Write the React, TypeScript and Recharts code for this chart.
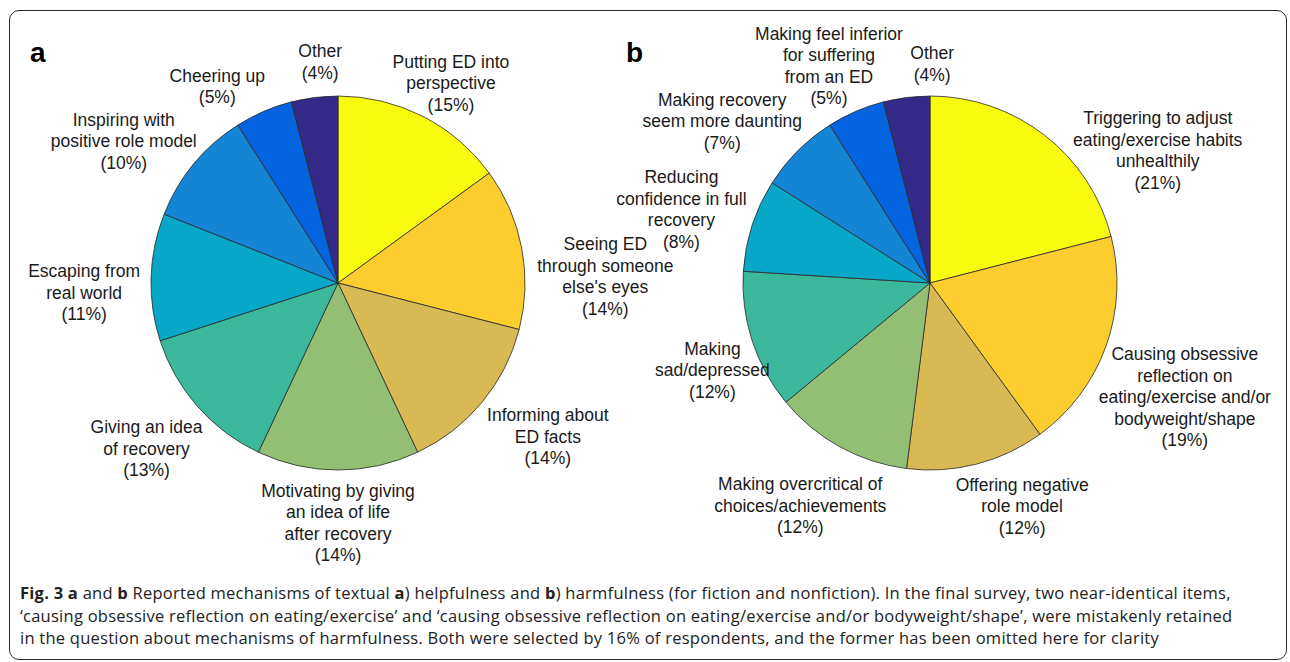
import React from "react";
import { PieChart, Pie, Cell } from "recharts";

// panel a: helpfulness
const helpNames = [
  "Putting ED into\nperspective",
  "Seeing ED\nthrough someone\nelse's eyes",
  "Informing about\nED facts",
  "Motivating by giving\nan idea of life\nafter recovery",
  "Giving an idea\nof recovery",
  "Escaping from\nreal world",
  "Inspiring with\npositive role model",
  "Cheering up",
  "Other",
];
const helpValues = [15, 14, 14, 14, 13, 11, 10, 5, 4];

// panel b: harmfulness
const harmNames = [
  "Triggering to adjust\neating/exercise habits\nunhealthily",
  "Causing obsessive\nreflection on\neating/exercise and/or\nbodyweight/shape",
  "Offering negative\nrole model",
  "Making overcritical of\nchoices/achievements",
  "Making\nsad/depressed",
  "Reducing\nconfidence in full\nrecovery",
  "Making recovery\nseem more daunting",
  "Making feel inferior\nfor suffering\nfrom an ED",
  "Other",
];
const harmValues = [21, 19, 12, 12, 12, 8, 7, 5, 4];

// parula, yellow -> dark blue
const parula = [
  "#f9fb0e",
  "#fccd2f",
  "#d8b953",
  "#92bf73",
  "#3bb89b",
  "#08a6c7",
  "#1485d4",
  "#0464e0",
  "#352a87",
];

// hand tweaks for label placement (dx, dy)
const helpNudge = [
  [-6, 8], [10, 39], [8, 5], [0, -4], [2, 11], [0, 17], [0, 7], [-23, 8], [10, 0],
];
const harmNudge = [
  [50, 60], [-18, 28], [25, -3], [10, 18], [24, 15], [12, 2], [-14, 3], [11, 7], [30, 2],
];

const helpData = helpNames.map((name, i) => ({ name, value: helpValues[i] }));
const harmData = harmNames.map((name, i) => ({ name, value: harmValues[i] }));

const LINE_H = 21.5;
const FONT = 17.5;
const RADIAN = Math.PI / 180;

const makeLabel = (nudge: number[][]) => (props: any) => {
  const { cx, cy, midAngle, outerRadius, index, name, value } = props;
  const lines = [...String(name).split("\n"), `(${value}%)`];
  const dx = Math.cos(midAngle * RADIAN);
  const dy = -Math.sin(midAngle * RADIAN);
  const w = Math.max(...lines.map((l) => l.length)) * 8;
  const h = lines.length * 21;
  const [nx, ny] = nudge[index] || [0, 0];
  const x = cx + dx * (outerRadius + 15) + (dx * w) / 2 + nx;
  const y = cy + dy * (outerRadius + 15) + (dy * h) / 2 + ny;
  const y0 = y - ((lines.length - 1) * LINE_H) / 2 + FONT * 0.35;
  return (
    <text
      x={x}
      y={y0}
      textAnchor="middle"
      fontFamily="'Liberation Sans', Arial, sans-serif"
      fontSize={FONT}
      fill="#1a1a1a"
    >
      {lines.map((l, i) => (
        <tspan key={i} x={x} y={y0 + i * LINE_H}>
          {l}
        </tspan>
      ))}
    </text>
  );
};

const captionFont = "'Open Sans', 'Noto Sans', sans-serif";

export default function App() {
  return (
    <div
      style={{
        position: "absolute",
        left: 0,
        top: 0,
        width: 1290,
        height: 662,
        background: "#fff",
        overflow: "hidden",
      }}
    >
      <div
        style={{
          position: "absolute",
          left: 9,
          top: 10,
          width: 1278,
          height: 650,
          border: "1.5px solid #2b2b2b",
          borderRadius: 10,
          boxSizing: "border-box",
        }}
      />
      <div style={{ position: "absolute", left: 0, top: 0 }}>
        <PieChart width={1290} height={580} margin={{ top: 0, right: 0, bottom: 0, left: 0 }}>
          <Pie
            data={helpData}
            dataKey="value"
            nameKey="name"
            cx={338}
            cy={283}
            outerRadius={187}
            startAngle={90}
            endAngle={-270}
            label={makeLabel(helpNudge)}
            labelLine={false}
            isAnimationActive={false}
          >
            {helpData.map((_, i) => (
              <Cell key={i} fill={parula[i]} stroke="#2a2a2a" strokeWidth={0.8} />
            ))}
          </Pie>
          <Pie
            data={harmData}
            dataKey="value"
            nameKey="name"
            cx={930}
            cy={283}
            outerRadius={187}
            startAngle={90}
            endAngle={-270}
            label={makeLabel(harmNudge)}
            labelLine={false}
            isAnimationActive={false}
          >
            {harmData.map((_, i) => (
              <Cell key={i} fill={parula[i]} stroke="#2a2a2a" strokeWidth={0.8} />
            ))}
          </Pie>
        </PieChart>
      </div>
      <svg
        width={1290}
        height={80}
        style={{ position: "absolute", left: 0, top: 0, pointerEvents: "none" }}
      >
        <text x={30} y={62} fontFamily="'Liberation Sans', Arial, sans-serif" fontWeight="bold" fontSize={28} fill="#000">
          a
        </text>
        <text x={626} y={62} fontFamily="'Liberation Sans', Arial, sans-serif" fontWeight="bold" fontSize={28} fill="#000">
          b
        </text>
      </svg>
      <div
        style={{
          position: "absolute",
          left: 20,
          top: 582,
          fontFamily: captionFont,
          fontSize: 16.5,
          lineHeight: "22.5px",
          letterSpacing: 0.25,
          color: "#222",
          whiteSpace: "nowrap",
        }}
      >
        <div>
          <b>Fig. 3 a</b> and <b>b</b> Reported mechanisms of textual <b>a</b>) helpfulness and <b>b</b>) harmfulness
          (for fiction and nonfiction). In the final survey, two near-identical items,
        </div>
        <div>
          ‘causing obsessive reflection on eating/exercise’ and ‘causing obsessive reflection on eating/exercise and/or
          bodyweight/shape’, were mistakenly retained
        </div>
        <div>
          in the question about mechanisms of harmfulness. Both were selected by 16% of respondents, and the former has
          been omitted here for clarity
        </div>
      </div>
    </div>
  );
}
